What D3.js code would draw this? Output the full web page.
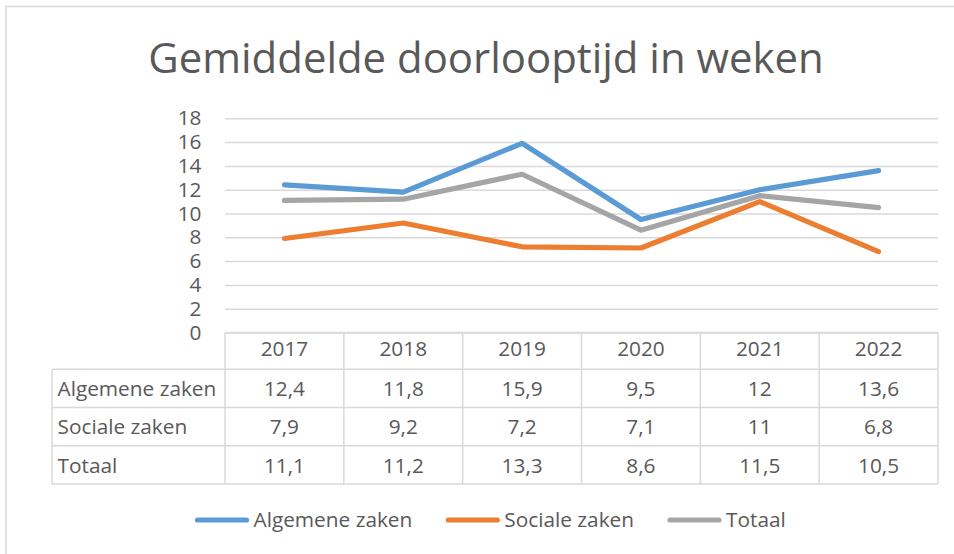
<!DOCTYPE html>
<html>
<head>
<meta charset="utf-8">
<script src="https://cdn.jsdelivr.net/npm/d3@7"></script>
<style>
  html, body { margin: 0; padding: 0; background: #fff; }
  svg { display: block; font-family: "Open Sans", "Noto Sans", sans-serif; }
</style>
</head>
<body>
<svg id="chart" width="954" height="554"></svg>
<script>
// ---- data ----
const title = "Gemiddelde doorlooptijd in weken";
const years = ["2017", "2018", "2019", "2020", "2021", "2022"];
const seriesNames = ["Algemene zaken", "Sociale zaken", "Totaal"];
const algemeneZaken = [12.4, 11.8, 15.9, 9.5, 12, 13.6];
const socialeZaken = [7.9, 9.2, 7.2, 7.1, 11, 6.8];
const totaal = [11.1, 11.2, 13.3, 8.6, 11.5, 10.5];
const seriesColors = ["#5B9BD5", "#ED7D31", "#A5A5A5"];
const yTicks = [0, 2, 4, 6, 8, 10, 12, 14, 16, 18];

const seriesValues = [algemeneZaken, socialeZaken, totaal];
const series = seriesNames.map((name, i) => ({ name, values: seriesValues[i], color: seriesColors[i] }));

// ---- layout ----
const svg = d3.select("#chart");
const textColor = "#595959";
const gridColor = "#D9D9D9";
const fontSize = 20.8;

const plotLeft = 225, plotRight = 938, plotTop = 118.3, plotBottom = 332.5;
const labelLeft = 52;
const headerBottom = 369.3;
const rowH = 38.25;

const x = d3.scaleBand().domain(years).range([plotLeft, plotRight]);
const y = d3.scaleLinear().domain([0, 18]).range([plotBottom, plotTop]);

const nl = d3.formatLocale({ decimal: ",", thousands: ".", grouping: [3], currency: ["€", ""] });
const fmt = nl.format("~g");

// chart border
svg.append("rect")
  .attr("x", 6).attr("y", 6.5).attr("width", 970).attr("height", 570)
  .attr("fill", "none").attr("stroke", gridColor).attr("stroke-width", 1.5);

// title
svg.append("text")
  .attr("x", 486).attr("y", 72.7)
  .attr("text-anchor", "middle")
  .attr("fill", textColor)
  .style("font-size", "41.9px")
  .text(title);

// gridlines
const grid = svg.append("g")
  .attr("transform", `translate(${plotLeft},0)`)
  .call(d3.axisLeft(y).tickValues(yTicks).tickSize(-(plotRight - plotLeft)).tickFormat(""));
grid.select(".domain").remove();
grid.selectAll(".tick line").attr("stroke", gridColor).attr("stroke-width", 1.5);

// y labels
const yAxis = svg.append("g")
  .attr("transform", `translate(${plotLeft},0)`)
  .call(d3.axisLeft(y).tickValues(yTicks).tickSize(0).tickPadding(23.5).tickFormat(d3.format("d")));
yAxis.select(".domain").remove();
yAxis.selectAll(".tick text")
  .attr("fill", textColor)
  .style("font-size", fontSize + "px")
  .style("font-family", "'Open Sans', 'Noto Sans', sans-serif");

// series lines
const line = d3.line()
  .x((d, i) => x(years[i]) + x.bandwidth() / 2)
  .y(d => y(d));

svg.append("g").selectAll("path")
  .data(series)
  .join("path")
  .attr("d", d => line(d.values))
  .attr("fill", "none")
  .attr("stroke", d => d.color)
  .attr("stroke-width", 5.2)
  .attr("stroke-linecap", "round")
  .attr("stroke-linejoin", "round");

// ---- data table ----
const table = svg.append("g");
const tableBottom = headerBottom + rowH * series.length;
const lineAttrs = sel => sel.attr("stroke", gridColor).attr("stroke-width", 1.5);

// horizontal lines
table.append("line").attr("x1", plotLeft).attr("x2", plotRight).attr("y1", plotBottom).attr("y2", plotBottom).call(lineAttrs);
series.forEach((s, i) => {
  const yy = headerBottom + rowH * i;
  table.append("line").attr("x1", labelLeft).attr("x2", plotRight).attr("y1", yy).attr("y2", yy).call(lineAttrs);
});
table.append("line").attr("x1", labelLeft).attr("x2", plotRight).attr("y1", tableBottom).attr("y2", tableBottom).call(lineAttrs);

// vertical lines
years.forEach(yr => {
  table.append("line").attr("x1", x(yr)).attr("x2", x(yr)).attr("y1", plotBottom).attr("y2", tableBottom).call(lineAttrs);
});
table.append("line").attr("x1", plotRight).attr("x2", plotRight).attr("y1", plotBottom).attr("y2", tableBottom).call(lineAttrs);
table.append("line").attr("x1", labelLeft).attr("x2", labelLeft).attr("y1", headerBottom).attr("y2", tableBottom).call(lineAttrs);

// header text
table.selectAll("text.year")
  .data(years)
  .join("text")
  .attr("class", "year")
  .attr("x", d => x(d) + x.bandwidth() / 2)
  .attr("y", plotBottom + 23.8)
  .attr("text-anchor", "middle")
  .attr("fill", textColor)
  .style("font-size", fontSize + "px")
  .text(d => d);

// rows
series.forEach((s, i) => {
  const base = headerBottom + rowH * i + 26.7;
  table.append("text")
    .attr("x", 57.5).attr("y", base)
    .attr("fill", textColor)
    .style("font-size", fontSize + "px")
    .text(s.name);
  table.selectAll(null)
    .data(s.values)
    .join("text")
    .attr("x", (d, j) => x(years[j]) + x.bandwidth() / 2)
    .attr("y", base)
    .attr("text-anchor", "middle")
    .attr("fill", textColor)
    .style("font-size", fontSize + "px")
    .text(d => fmt(d));
});

// ---- legend ----
const legend = svg.append("g");
let lx = 195;
const legendY = 520;
series.forEach(s => {
  const g = legend.append("g");
  g.append("line")
    .attr("x1", lx + 2.5).attr("x2", lx + 51.5)
    .attr("y1", legendY).attr("y2", legendY)
    .attr("stroke", s.color).attr("stroke-width", 5.2).attr("stroke-linecap", "round");
  const t = g.append("text")
    .attr("x", lx + 58.5).attr("y", legendY + 6.7)
    .attr("fill", textColor)
    .style("font-size", fontSize + "px")
    .text(s.name);
  lx = lx + 58.5 + t.node().getComputedTextLength() + 33.5;
});
</script>
</body>
</html>
